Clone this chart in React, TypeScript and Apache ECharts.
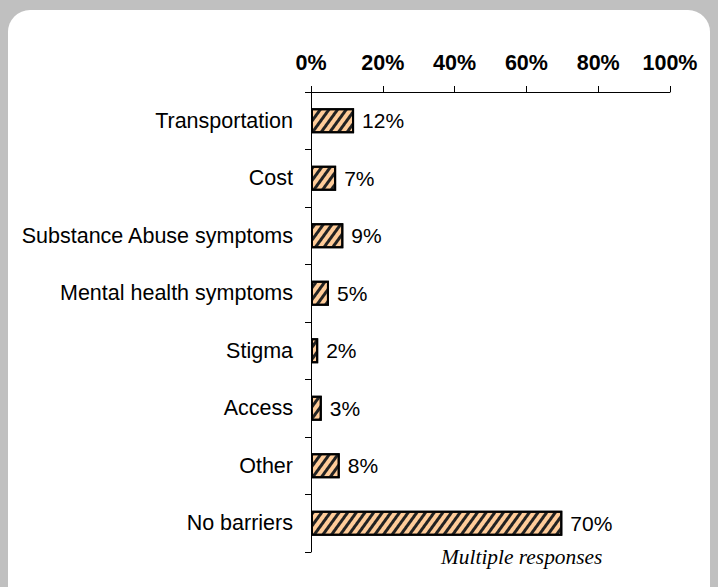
import React, { useEffect, useRef } from "react";
import * as echarts from "echarts";

const categories = [
  "Transportation",
  "Cost",
  "Substance Abuse symptoms",
  "Mental health symptoms",
  "Stigma",
  "Access",
  "Other",
  "No barriers",
];
const values = [12, 7, 9, 5, 2, 3, 8, 70];
const axisMin = 0;
const axisMax = 100;
const axisStep = 20;
const footnote = "Multiple responses";

const sans = 'Arial, "Liberation Sans", sans-serif';
const serif = '"Times New Roman", "Liberation Serif", serif';

export default function App() {
  const ref = useRef<HTMLDivElement>(null);
  useEffect(() => {
    if (!ref.current) return;
    const chart = echarts.init(ref.current, null, { renderer: "svg" });
    chart.setOption({
      animation: false,
      backgroundColor: "#c0c0c0",
      graphic: [
        {
          type: "rect",
          z: -10,
          silent: true,
          shape: { x: 8, y: 10, width: 702, height: 600, r: 22 },
          style: { fill: "#ffffff" },
        },
        {
          type: "text",
          z: 10,
          x: 441,
          y: 557,
          style: {
            text: footnote,
            font: `italic 21.4px ${serif}`,
            fill: "#000",
            verticalAlign: "middle",
            align: "left",
          },
        },
      ],
      grid: { left: 311, right: 48, top: 92, bottom: 35, containLabel: false },
      xAxis: {
        type: "value",
        position: "top",
        min: axisMin,
        max: axisMax,
        interval: axisStep,
        splitLine: { show: false },
        axisLine: { show: true, lineStyle: { color: "#000", width: 1 } },
        axisTick: { show: true, length: 6, lineStyle: { color: "#000" } },
        axisLabel: {
          formatter: "{value}%",
          fontFamily: sans,
          fontSize: 21.5,
          fontWeight: "bold",
          color: "#000",
          margin: 18,
        },
      },
      yAxis: {
        type: "category",
        data: categories,
        inverse: true,
        axisLine: { show: true, lineStyle: { color: "#000", width: 1 } },
        axisTick: { show: true, length: 6, lineStyle: { color: "#000" } },
        axisLabel: {
          fontFamily: sans,
          fontSize: 21.5,
          color: "#000",
          margin: 18,
        },
      },
      series: [
        {
          type: "bar",
          data: values,
          barWidth: 25,
          itemStyle: {
            color: "#FFCC99",
            borderColor: "#000",
            borderWidth: 2,
            decal: {
              symbol: "rect",
              symbolSize: 1,
              color: "#222",
              dashArrayX: [1, 0],
              dashArrayY: [3, 4],
              rotation: -Math.PI * 0.3,
            },
          },
          label: {
            show: true,
            position: "right",
            distance: 8,
            formatter: "{c}%",
            fontFamily: sans,
            fontSize: 21,
            color: "#000",
          },
        },
      ],
    });
    return () => chart.dispose();
  }, []);
  return (
    <div
      ref={ref}
      style={{ position: "fixed", left: 0, top: 0, width: 718, height: 587 }}
    />
  );
}
